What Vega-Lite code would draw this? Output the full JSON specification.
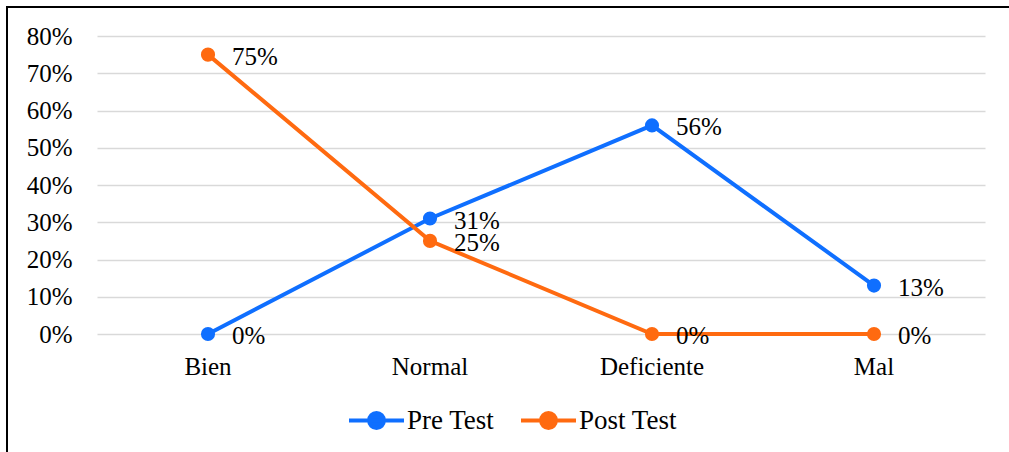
{
  "$schema": "https://vega.github.io/schema/vega-lite/v6.json",
  "width": 1005,
  "height": 448,
  "autosize": {"type": "none"},
  "padding": {"left": 7, "top": 7, "right": -3, "bottom": -3},
  "background": "white",
  "config": {"view": {"stroke": "black", "strokeWidth": 2}, "font": "Liberation Serif"},
  "data": {"values": [
    {"cat": "Bien", "serie": "Pre Test", "v": 0},
    {"cat": "Normal", "serie": "Pre Test", "v": 0.31},
    {"cat": "Deficiente", "serie": "Pre Test", "v": 0.56},
    {"cat": "Mal", "serie": "Pre Test", "v": 0.13},
    {"cat": "Bien", "serie": "Post Test", "v": 0.75},
    {"cat": "Normal", "serie": "Post Test", "v": 0.25},
    {"cat": "Deficiente", "serie": "Post Test", "v": 0},
    {"cat": "Mal", "serie": "Post Test", "v": 0}
  ]},
  "encoding": {
    "x": {
      "field": "cat", "type": "nominal",
      "sort": ["Bien", "Normal", "Deficiente", "Mal"],
      "scale": {"type": "band", "range": [90, 978], "paddingInner": 0, "paddingOuter": 0},
      "bandPosition": 0.5,
      "axis": {"title": null, "orient": "bottom", "offset": -121, "domain": false, "ticks": false, "tickSize": 0, "labelPadding": 20, "labelFontSize": 25, "labelColor": "black", "labelAngle": 0, "grid": false}
    },
    "y": {
      "field": "v", "type": "quantitative",
      "scale": {"domain": [0, 0.8], "range": [327, 29], "nice": false, "zero": true},
      "axis": {"title": null, "values": [0, 0.1, 0.2, 0.3, 0.4, 0.5, 0.6, 0.7, 0.8], "format": ".0%", "offset": -90, "domain": false, "ticks": false, "tickSize": 0, "labelPadding": 25, "labelFontSize": 25, "labelColor": "black", "grid": true, "gridColor": "#d9d9d9", "gridWidth": 1.5}
    },
    "color": {
      "field": "serie", "type": "nominal",
      "scale": {"domain": ["Pre Test", "Post Test"], "range": ["#0F6FFF", "#FF6A10"]},
      "legend": {
        "orient": "none", "legendX": 340, "legendY": 384, "direction": "horizontal", "title": null,
        "labelFontSize": 27, "labelColor": "black", "labelOffset": 1, "columnPadding": 18,
        "symbolType": "M-1,0L1,0M-0.27,0A0.27,0.27,0,1,1,0.27,0A0.27,0.27,0,1,1,-0.27,0",
        "symbolSize": 3025, "symbolStrokeWidth": 4,
        "encode": {"symbols": {"update": {"fill": {"scale": "color", "field": "value"}, "stroke": {"scale": "color", "field": "value"}, "opacity": {"value": 1}}}}
      }
    }
  },
  "layer": [
    {"mark": {"type": "line", "strokeWidth": 4}},
    {"mark": {"type": "point", "filled": true, "size": 200, "opacity": 1}},
    {
      "mark": {"type": "text", "align": "left", "baseline": "middle", "dx": 24, "dy": 2, "fontSize": 25},
      "encoding": {"text": {"field": "v", "format": ".0%"}, "color": {"value": "black"}}
    }
  ]
}
